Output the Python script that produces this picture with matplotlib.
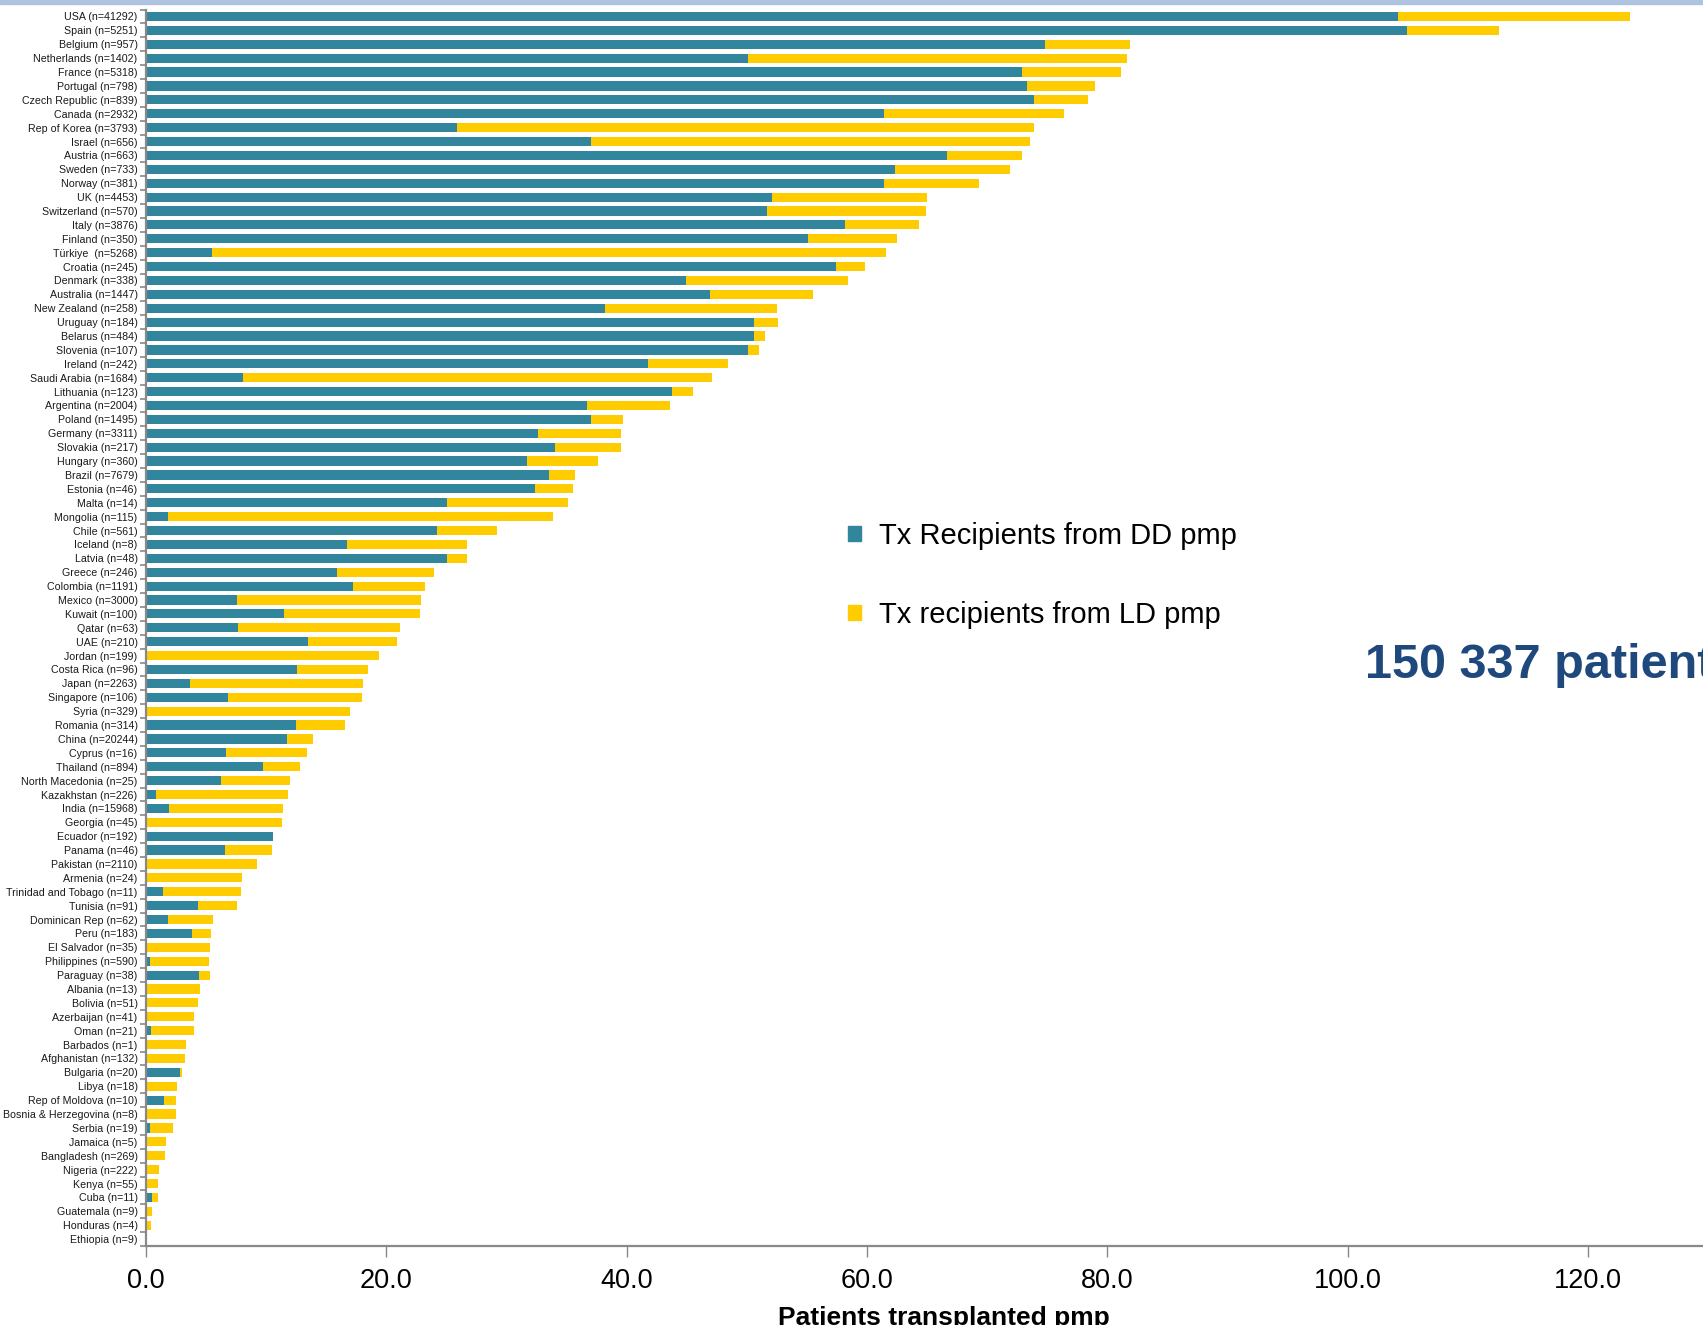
import numpy as np
import matplotlib
matplotlib.use("Agg")
import matplotlib.pyplot as plt
from matplotlib.patches import Rectangle, Patch
from matplotlib.ticker import FixedLocator

plt.rcParams["font.family"] = ["Liberation Sans", "DejaVu Sans"]

# -------------------------------------------------
# Data
# -------------------------------------------------
countries = [
    "USA (n=41292)", "Spain (n=5251)", "Belgium (n=957)", "Netherlands (n=1402)",
    "France (n=5318)", "Portugal (n=798)", "Czech Republic (n=839)", "Canada (n=2932)",
    "Rep of Korea (n=3793)", "Israel (n=656)", "Austria (n=663)", "Sweden (n=733)",
    "Norway (n=381)", "UK (n=4453)", "Switzerland (n=570)", "Italy (n=3876)",
    "Finland (n=350)", "Türkiye  (n=5268)", "Croatia (n=245)", "Denmark (n=338)",
    "Australia (n=1447)", "New Zealand (n=258)", "Uruguay (n=184)", "Belarus (n=484)",
    "Slovenia (n=107)", "Ireland (n=242)", "Saudi Arabia (n=1684)", "Lithuania (n=123)",
    "Argentina (n=2004)", "Poland (n=1495)", "Germany (n=3311)", "Slovakia (n=217)",
    "Hungary (n=360)", "Brazil (n=7679)", "Estonia (n=46)", "Malta (n=14)",
    "Mongolia (n=115)", "Chile (n=561)", "Iceland (n=8)", "Latvia (n=48)",
    "Greece (n=246)", "Colombia (n=1191)", "Mexico (n=3000)", "Kuwait (n=100)",
    "Qatar (n=63)", "UAE (n=210)", "Jordan (n=199)", "Costa Rica (n=96)",
    "Japan (n=2263)", "Singapore (n=106)", "Syria (n=329)", "Romania (n=314)",
    "China (n=20244)", "Cyprus (n=16)", "Thailand (n=894)", "North Macedonia (n=25)",
    "Kazakhstan (n=226)", "India (n=15968)", "Georgia (n=45)", "Ecuador (n=192)",
    "Panama (n=46)", "Pakistan (n=2110)", "Armenia (n=24)", "Trinidad and Tobago (n=11)",
    "Tunisia (n=91)", "Dominican Rep (n=62)", "Peru (n=183)", "El Salvador (n=35)",
    "Philippines (n=590)", "Paraguay (n=38)", "Albania (n=13)", "Bolivia (n=51)",
    "Azerbaijan (n=41)", "Oman (n=21)", "Barbados (n=1)", "Afghanistan (n=132)",
    "Bulgaria (n=20)", "Libya (n=18)", "Rep of Moldova (n=10)", "Bosnia & Herzegovina (n=8)",
    "Serbia (n=19)", "Jamaica (n=5)", "Bangladesh (n=269)", "Nigeria (n=222)",
    "Kenya (n=55)", "Cuba (n=11)", "Guatemala (n=9)", "Honduras (n=4)",
    "Ethiopia (n=9)",
]

# deceased donor tx pmp
dd_pmp = [
    104.2, 104.9, 74.8, 50.1, 72.9, 73.3, 73.9, 61.4,
    25.9, 37.0, 66.7, 62.3, 61.4, 52.1, 51.7, 58.2,
    55.1, 5.5, 57.4, 44.9, 46.9, 38.2, 50.6, 50.6,
    50.1, 41.8, 8.1, 43.8, 36.7, 37.0, 32.65, 34.07,
    31.7, 33.5, 32.4, 25.06, 1.8, 24.2, 16.7, 25.05,
    15.9, 17.2, 7.6, 11.45, 7.7, 13.5, 0.0, 12.55,
    3.65, 6.84, 0.0, 12.5, 11.7, 6.7, 9.7, 6.25,
    0.85, 1.9, 0.0, 10.55, 6.6, 0.0, 0.0, 1.45,
    4.3, 1.85, 3.85, 0.0, 0.35, 4.45, 0.0, 0.0,
    0.0, 0.43, 0.0, 0.0, 2.84, 0.0, 1.54, 0.0,
    0.37, 0.0, 0.0, 0.0, 0.0, 0.49, 0.0, 0.0,
    0.0,
]

# total (DD + LD) tx pmp
total_pmp = [
    123.5, 112.6, 81.9, 81.6, 81.1, 79.0, 78.4, 76.4,
    73.9, 73.6, 72.9, 71.9, 69.3, 65.0, 64.9, 64.3,
    62.5, 61.6, 59.8, 58.4, 55.5, 52.5, 52.6, 51.5,
    51.0, 48.4, 47.1, 45.5, 43.6, 39.7, 39.5, 39.5,
    37.6, 35.7, 35.5, 35.1, 33.9, 29.2, 26.75, 26.75,
    23.95, 23.2, 22.9, 22.8, 21.1, 20.9, 19.4, 18.5,
    18.1, 18.0, 17.0, 16.6, 13.9, 13.4, 12.8, 12.0,
    11.8, 11.4, 11.3, 10.6, 10.5, 9.25, 8.0, 7.9,
    7.6, 5.6, 5.45, 5.3, 5.25, 5.3, 4.5, 4.3,
    4.0, 4.0, 3.37, 3.29, 3.0, 2.62, 2.54, 2.54,
    2.23, 1.7, 1.62, 1.07, 1.01, 1.01, 0.51, 0.43,
    0.1,
]

ld_pmp = [round(t - d, 2) for t, d in zip(total_pmp, dd_pmp)]

xticks = [0, 20, 40, 60, 80, 100, 120]

TEAL = "#31869E"
YELLOW = "#FFCC00"
GREY = "#898989"

# -------------------------------------------------
# Figure
# -------------------------------------------------
fig = plt.figure(figsize=(17.03, 13.25), dpi=100)
ax = fig.add_axes([0.0857, 0.0596, 0.9143, 0.9332])

y = np.arange(len(countries))
b1 = ax.barh(y, dd_pmp, height=0.66, color=TEAL, label="Tx Recipients from DD pmp")
b2 = ax.barh(y, ld_pmp, left=dd_pmp, height=0.66, color=YELLOW, label="Tx recipients from LD pmp")

ax.set_ylim(len(countries) - 0.5, -0.5)
ax.set_xlim(0, 129.57)

ax.set_yticks(y)
ax.set_yticklabels(countries, fontsize=7.7, color="#1a1a1a")
ax.yaxis.set_minor_locator(FixedLocator(np.arange(-0.5, len(countries), 1.0)))
ax.tick_params(axis="y", which="major", length=0, pad=6)
ax.tick_params(axis="y", which="minor", length=4, width=1.2, color=GREY, direction="out")

ax.set_xticks(xticks)
ax.set_xticklabels([f"{v:.1f}" for v in xticks], fontsize=19.5)
ax.tick_params(axis="x", length=8, width=1, color=GREY, pad=8)

for side in ["top", "right"]:
    ax.spines[side].set_visible(False)
for side in ["left", "bottom"]:
    ax.spines[side].set_color(GREY)
    ax.spines[side].set_linewidth(1.6)

fig.text(944 / 1703, 0.0143, "Patients transplanted pmp", fontsize=19,
         fontweight="bold", ha="center", va="top")

# legend
handles = [Patch(color=TEAL), Patch(color=YELLOW)]
fig.legend(handles, [b1.get_label(), b2.get_label()], loc="upper left",
           bbox_to_anchor=(848 / 1703, 1 - 522 / 1325), frameon=False,
           fontsize=21, handlelength=0.45, handleheight=0.45,
           handletextpad=0.6, labelspacing=1.75, borderpad=0, borderaxespad=0)

fig.text(1365 / 1703, 1 - 666 / 1325, "150 337 patients", fontsize=35,
         fontweight="bold", color="#1F497D", ha="left", va="center")

# top strip
fig.patches.append(Rectangle((0, 1 - 4 / 1325), 1, 4 / 1325, transform=fig.transFigure,
                             color="#AEC3E0", zorder=5))

fig.savefig("out.png", dpi=100)
